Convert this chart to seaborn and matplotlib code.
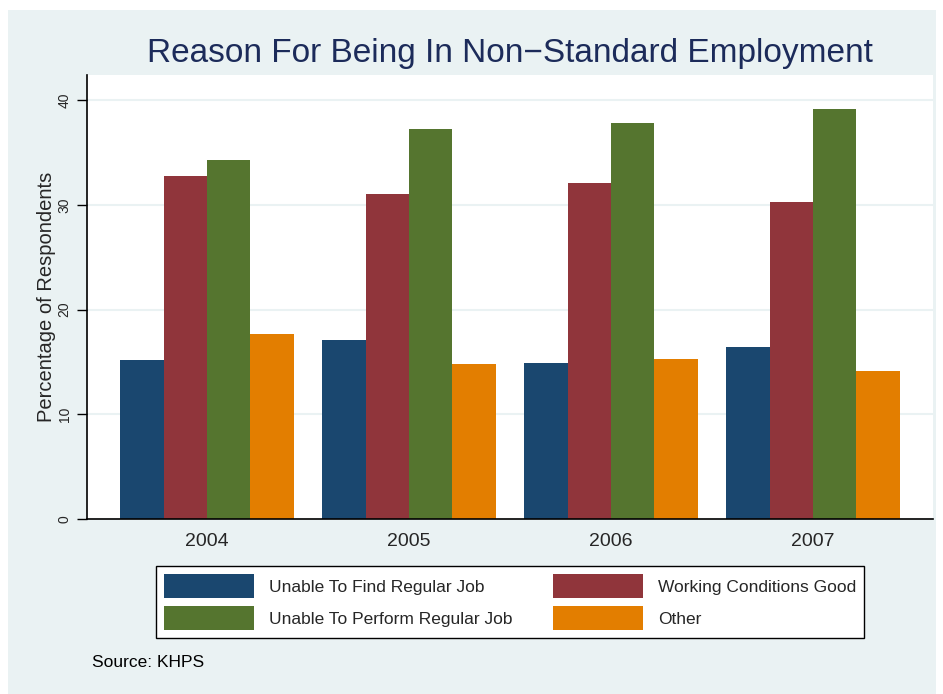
import matplotlib.pyplot as plt
import matplotlib.patches as mpatches
import seaborn as sns
import pandas as pd

years = ['2004', '2005', '2006', '2007']
reasons = ['Unable To Find Regular Job', 'Working Conditions Good',
           'Unable To Perform Regular Job', 'Other']
find_job = [15.2, 17.1, 14.9, 16.4]
conditions_good = [32.8, 31.0, 32.1, 30.3]
perform_job = [34.3, 37.2, 37.8, 39.2]
other = [17.7, 14.8, 15.3, 14.1]
colors = ['#1A476F', '#90353B', '#55752F', '#E37E00']

rows = []
for reason, vals in zip(reasons, [find_job, conditions_good, perform_job, other]):
    for yr, v in zip(years, vals):
        rows.append({'year': yr, 'reason': reason, 'pct': v})
data = pd.DataFrame(rows)

sns.set_theme(style='white')
plt.rcParams['font.family'] = ['Liberation Sans', 'DejaVu Sans']

bg = '#EAF2F3'
fig = plt.figure(figsize=(9.43, 6.94), dpi=100, facecolor='white')
fig.patches.append(mpatches.Rectangle((8 / 943, 0), 928 / 943, 684 / 694,
                                      transform=fig.transFigure,
                                      facecolor=bg, edgecolor='none', zorder=-10))

ax = fig.add_axes([87 / 943, 1 - 519 / 694, 846 / 943, 444 / 694])
ax.set_facecolor('white')
sns.barplot(data=data, x='year', y='pct', hue='reason', hue_order=reasons,
            palette=colors, saturation=1, width=0.86, linewidth=0, ax=ax)

ax.set_xlim(-0.594, 3.594)
ax.set_ylim(0, 42.4)
ax.set_yticks([0, 10, 20, 30, 40])
ax.yaxis.grid(True, color=bg, linewidth=1.5)
ax.set_axisbelow(True)
for s in ['top', 'right']:
    ax.spines[s].set_visible(False)
for s in ['left', 'bottom']:
    ax.spines[s].set_color('black')
    ax.spines[s].set_linewidth(1.2)
ax.tick_params(axis='y', left=True, length=7, width=1, color='black',
               labelsize=10, labelrotation=90, pad=4)
for lab in ax.get_yticklabels():
    lab.set_va('center')
ax.tick_params(axis='x', bottom=False, labelsize=14, pad=4)
ax.set_xlabel('')
ax.set_ylabel('Percentage of Respondents', fontsize=14.5, labelpad=1)

# legend is filled row-wise in the original
handles, labels = ax.get_legend_handles_labels()
ax.legend_.remove()
order = [0, 2, 1, 3]
leg = fig.legend([handles[i] for i in order], [labels[i] for i in order],
                 loc='center', ncol=2, mode='expand',
                 bbox_to_anchor=(156 / 943, 1 - 641 / 694, 708 / 943, 78 / 694),
                 borderaxespad=0, fontsize=12.5, frameon=True, fancybox=False,
                 edgecolor='black', facecolor='white', framealpha=1,
                 handlelength=5.2, handleheight=1.75, handletextpad=0.85,
                 labelspacing=0.45, borderpad=0.45)
leg.get_frame().set_linewidth(1)

fig.text(510 / 943, 1 - 62 / 694, 'Reason For Being In Non\u2212Standard Employment',
         ha='center', va='baseline', fontsize=24, color='#1C2B5A')
fig.text(92 / 943, 1 - 667 / 694, 'Source: KHPS', ha='left', va='baseline',
         fontsize=12.5, color='black')

fig.savefig('out.png', dpi=100, facecolor=fig.get_facecolor())
